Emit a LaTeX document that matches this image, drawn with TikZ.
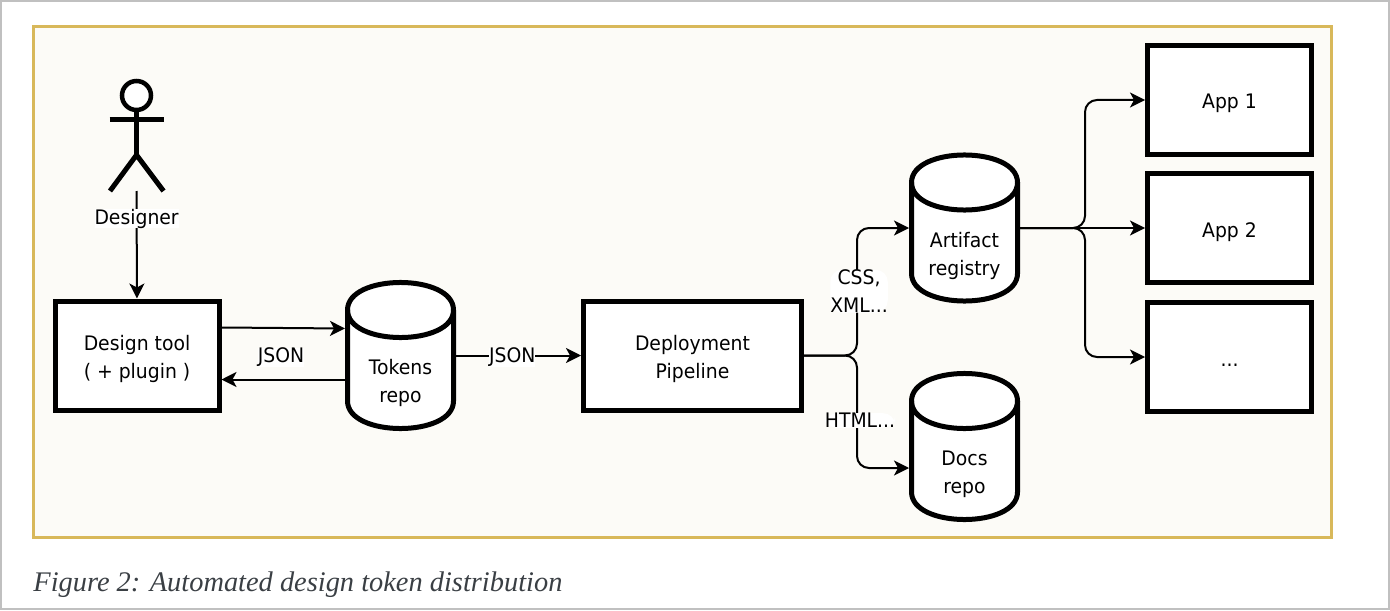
\documentclass[tikz,border=0pt]{standalone}
\usepackage{fontspec}
\setmainfont{DejaVu Sans}[FakeStretch=0.94]
\newfontfamily\captionfont{Liberation Serif}
\usetikzlibrary{positioning,arrows.meta}
\definecolor{paneledge}{HTML}{D8B85A}
\definecolor{panelfill}{HTML}{FCFBF7}
\definecolor{pageedge}{HTML}{C0C0C0}
\definecolor{captionink}{HTML}{3A3F44}

\begin{document}
\begin{tikzpicture}[
		x=0.5pt, y=-0.5pt,
		box/.style={rectangle, draw=black, fill=white, line width=2.5pt, align=center, font=\fontsize{10}{14}\selectfont, minimum height=54.5pt, minimum width=82pt, text height=25.5pt, text depth=2.5pt},
		appbox/.style={box, text height=11.5pt},
		store/.style={rectangle, inner sep=0pt, outer sep=0pt, minimum width=55.5pt, minimum height=74.5pt},
		drum/.style={draw=black, fill=white, line width=2.5pt},
		storetext/.style={align=center, inner sep=0pt, font=\fontsize{10}{14}\selectfont},
		flow/.style={-{Stealth[length=7.5pt, width=7.5pt, inset=2pt]}, line width=1pt},
		tag/.style={fill=white, inner sep=0pt, align=center, yshift=-1pt, font=\fontsize{10}{14}\selectfont},
		stick/.style={line width=2.5pt},
	]

	%Page and panel
	\useasboundingbox (0,0) rectangle (1390,610);
	\draw[pageedge, line width=1pt] (1,1) rectangle (1389,609);
	\node[rectangle, draw=paneledge, fill=panelfill, line width=1.5pt, minimum width=649pt, minimum height=255pt] (panel) at (682.5,282) {};

	%Actor
	\node[circle, draw=black, fill=white, line width=2.25pt, minimum size=14.5pt, inner sep=0pt] (head) at (136.5,95.5) {};
	\coordinate (hip) at (136.5,155);
	\coordinate (foot) at (136.5,191);
	\draw[stick] (head.south) -- (hip);
	\draw[stick] (109.5,119) -- (164,119);
	\draw[stick] (110,191) -- (hip) -- (163.5,191);

	%Nodes
	\node[box] (design) at (137,355.5) {Design tool\\( + plugin )};
	\node[store, right=61.75pt of design] (tokens) {};
	\node[box, minimum width=109pt, right=179.75pt of design] (deploy) {Deployment\\Pipeline};
	\node[store, right=52.5pt of deploy, yshift=63.75pt] (artifact) {};
	\node[store, right=52.5pt of deploy, yshift=-45.5pt] (docs) {};
	\node[appbox, right=62.5pt of artifact] (app2) {App 2};
	\node[appbox, above=7pt of app2] (app1) {App 1};
	\node[appbox, below=7.5pt of app2] (app3) {...};
	\node[tag, right=18pt of design] (back) {JSON};

	%Drums
	\foreach \name in {tokens,artifact,docs} {
		\draw[drum, shift={(\name.center)}] (-53,-45.5) .. controls (-53,-82.2) and (53,-82.2) .. (53,-45.5) -- (53,45.5) .. controls (53,82.2) and (-53,82.2) .. (-53,45.5) -- cycle;
		\draw[drum, fill=none, shift={(\name.center)}] (-53,-45.5) .. controls (-53,-8.8) and (53,-8.8) .. (53,-45.5);
	}
	\node[storetext] (tokenstext) at ([yshift=-13.75pt]tokens.center) {Tokens\\repo};
	\node[storetext] (artifacttext) at ([yshift=-13.75pt]artifact.center) {Artifact\\registry};
	\node[storetext] (docstext) at ([yshift=-13.75pt]docs.center) {Docs\\repo};

	%Lines
	\draw[flow] (foot) -- node[tag, pos=0.24] (who) {Designer} (design.north);
	\draw[flow] ([yshift=14pt]design.east) -- ([yshift=13.5pt]tokens.west);
	\draw[flow] ([yshift=-12pt]tokens.west) -- ([yshift=-12pt]design.east);
	\draw[flow] (tokens.east) -- node[tag, pos=0.45] (out) {JSON} (deploy.west);
	\draw[flow, rounded corners=6pt] (deploy.east) -- ++(53,0) |- node[tag, pos=0.26, xshift=1pt] (styles) {CSS,\\XML...} (artifact.west);
	\draw[flow, rounded corners=6pt] (deploy.east) -- ++(53,0) |- node[tag, pos=0.28, xshift=1.5pt] (pages) {HTML...} ([yshift=-10.75pt]docs.west);
	\draw[flow, rounded corners=6pt] (artifact.east) -- ++(65,0) |- (app1.west);
	\draw[flow] (artifact.east) -- (app2.west);
	\draw[flow, rounded corners=6pt] (artifact.east) -- ++(65,0) |- (app3.west);

	%Caption
	\node[anchor=base west, inner sep=0pt, text=captionink, font=\captionfont\itshape\fontsize{14.2}{16}\selectfont] (caption) at (33,591) {Figure 2: Automated design token distribution};

\end{tikzpicture}
\end{document}
